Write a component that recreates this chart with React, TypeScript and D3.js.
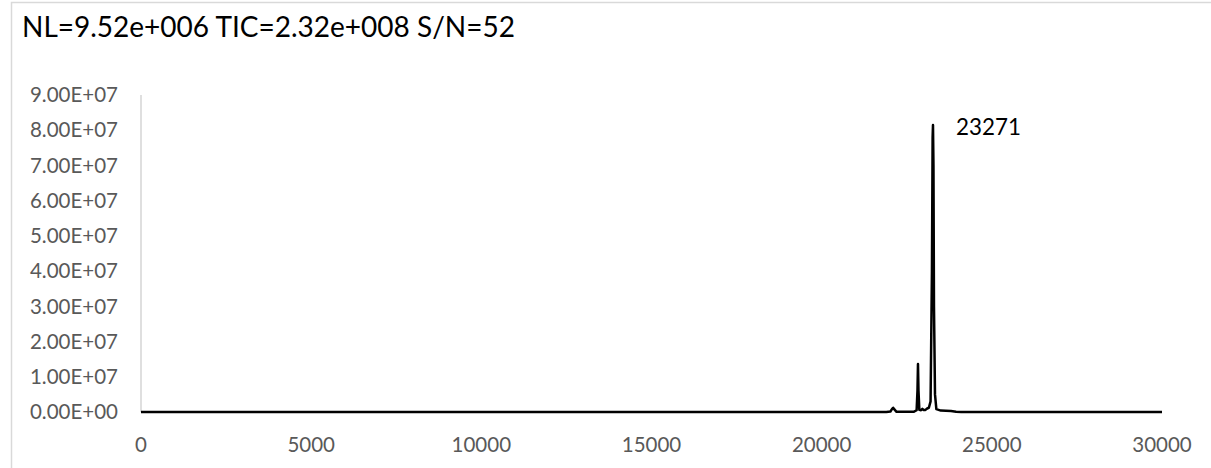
import React from "react";
import * as d3 from "d3";

const TITLE = "NL=9.52e+006 TIC=2.32e+008 S/N=52";
const PEAK_LABEL = "23271";
const PEAK_MASS = 23271;

const xTicks = [0, 5000, 10000, 15000, 20000, 25000, 30000];
const yTicks = [0, 1e7, 2e7, 3e7, 4e7, 5e7, 6e7, 7e7, 8e7, 9e7];

// deconvoluted spectrum: mass (Da), intensity
const mass = [
  0, 21900, 22020, 22070, 22100, 22130, 22200, 22700, 22790, 22815, 22830, 22845, 22870,
  22920, 22960, 22990, 23050, 23100, 23150, 23200, 23240, 23260, 23271, 23285, 23300,
  23330, 23370, 23500, 23800, 23950, 24100, 30000,
];
const intensity = [
  0, 0, 0.15e6, 0.9e6, 1.2e6, 0.8e6, 0.05e6, 0.05e6, 0.5e6, 6e6, 13.6e6, 6e6, 0.6e6,
  0.5e6, 0.9e6, 0.6e6, 0.6e6, 1.0e6, 1.2e6, 3e6, 40e6, 78e6, 81.5e6, 70e6, 30e6,
  5e6, 0.8e6, 0.4e6, 0.3e6, 0.1e6, 0, 0,
];

const W = 1211;
const H = 468;
const PL = 141, PR = 1162, PT = 95, PB = 412;

function fmtY(t: number) {
  const [m, e] = t.toExponential(2).toUpperCase().split("E");
  const sign = e.startsWith("-") ? "-" : "+";
  const digits = e.replace(/^[+-]/, "").padStart(2, "0");
  return `${m}E${sign}${digits}`;
}

export default function App() {
  const x = d3.scaleLinear().domain([0, 30000]).range([PL, PR]);
  const y = d3.scaleLinear().domain([0, 9e7]).range([PB, PT]);
  const pts = mass.map((m, i) => [m, intensity[i]] as [number, number]);
  const line = d3
    .line<[number, number]>()
    .x((d) => x(d[0]))
    .y((d) => y(d[1]));
  const peakIdx = mass.indexOf(PEAK_MASS);

  return (
    <svg
      width={W}
      height={H}
      style={{ position: "absolute", left: 0, top: 0, background: "#fff" }}
      fontFamily="Lato, 'Open Sans', sans-serif"
    >
      <rect x={11.5} y={2.5} width={W} height={H} fill="#fff" stroke="#d9d9d9" strokeWidth={1.5} />
      <text x={22} y={37} fontSize={28} fill="#000">
        {TITLE}
      </text>
      <line x1={PL} x2={PL} y1={PT} y2={PB} stroke="#bfbfbf" strokeWidth={1} />
      {yTicks.map((t) => (
        <text
          key={"y" + t}
          x={118}
          y={y(t)}
          dy="0.35em"
          textAnchor="end"
          fontSize={20.5}
          fill="#595959"
        >
          {fmtY(t)}
        </text>
      ))}
      {xTicks.map((t) => (
        <text
          key={"x" + t}
          x={x(t)}
          y={452}
          textAnchor="middle"
          fontSize={20.5}
          fill="#595959"
        >
          {t}
        </text>
      ))}
      <path d={line(pts) || ""} fill="none" stroke="#000" strokeWidth={2.5} strokeLinejoin="round" />
      <text x={x(mass[peakIdx]) + 23} y={y(intensity[peakIdx]) + 10} fontSize={22.4} fill="#000">
        {PEAK_LABEL}
      </text>
    </svg>
  );
}
